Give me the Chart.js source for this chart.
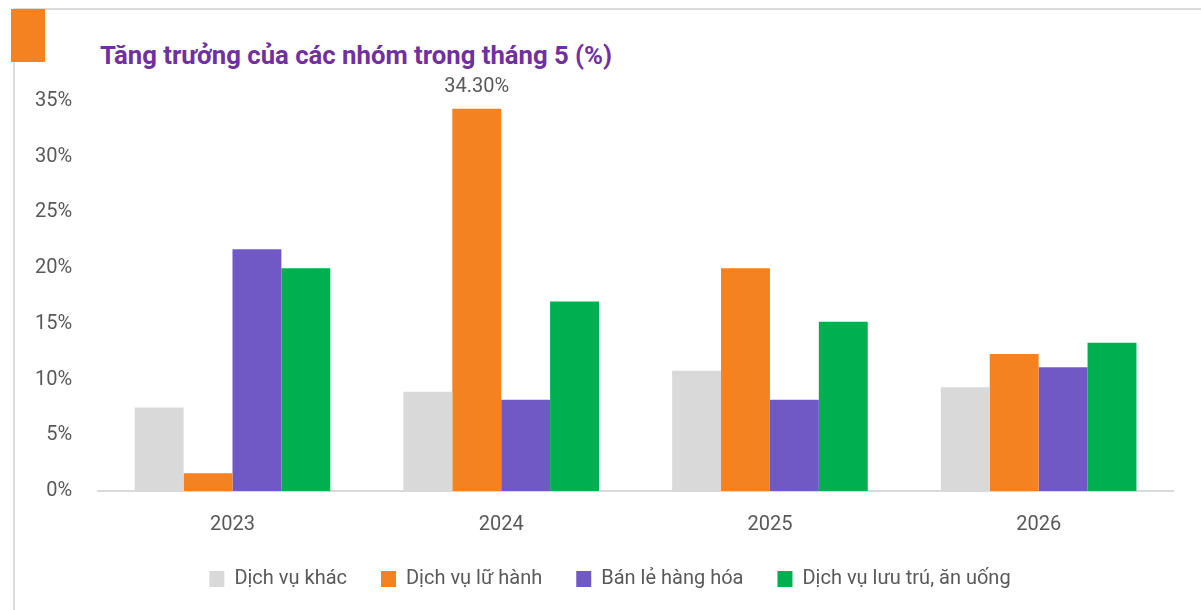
<!DOCTYPE html>
<html>
<head>
<meta charset="utf-8">
<script src="https://cdn.jsdelivr.net/npm/chart.js@4.4.1/dist/chart.umd.min.js"></script>
<style>
  body { margin: 0; background: #fff; }
  .wrap { position: relative; width: 1201px; height: 610px; overflow: hidden; }
  .frame { position: absolute; left: 13px; top: 8px; right: -2px; bottom: -2px; border-top: 2px solid #dcdcdc; border-left: 2px solid #dcdcdc; }
  .mark { position: absolute; left: 11px; top: 9px; width: 34px; height: 53px; background: #f58220; }
  .title { position: absolute; left: 100px; top: 40px; font-family: "Roboto", sans-serif; font-weight: bold; font-size: 25.7px; color: #7030a0; }
  canvas { position: absolute; left: 0; top: 0; }
</style>
</head>
<body>
<div class="wrap">
  <div class="frame"></div>
  <div class="mark"></div>
  <div class="title">Tăng trưởng của các nhóm trong tháng 5 (%)</div>
  <canvas id="myChart" width="1201" height="610"></canvas>
</div>
<script>
//data
const years = ["2023", "2024", "2025", "2026"];
const dvKhac = [7.5, 8.9, 10.8, 9.3];
const luHanh = [1.6, 34.3, 20.0, 12.3];
const banLe = [21.7, 8.2, 8.2, 11.1];
const luuTru = [20.0, 17.0, 15.2, 13.3];
const yTicks = [0, 5, 10, 15, 20, 25, 30, 35];

const font = "'Roboto', sans-serif";
const grey = "#595959";

//label only on the 34.30% bar
const topLabel = {
  id: "topLabel",
  afterDatasetsDraw(chart) {
    const bar = chart.getDatasetMeta(1).data[1];
    const c = chart.ctx;
    c.save();
    c.font = "20px " + font;
    c.fillStyle = grey;
    c.textAlign = "center";
    c.textBaseline = "bottom";
    c.fillText(luHanh[1].toFixed(2) + "%", bar.x, bar.y - 12);
    c.restore();
  },
};

//nudge legend a bit to the right, like the original
const legendShift = {
  id: "legendShift",
  afterLayout(chart) {
    chart.legend.left += 15;
    chart.legend.right += 15;
  },
};

const ctx = document.getElementById("myChart").getContext("2d");
const myChart = new Chart(ctx, {
  type: "bar",
  data: {
    labels: years,
    datasets: [
      { label: "Dịch vụ khác", data: dvKhac, backgroundColor: "#d9d9d9" },
      { label: "Dịch vụ lữ hành", data: luHanh, backgroundColor: "#f58220" },
      { label: "Bán lẻ hàng hóa", data: banLe, backgroundColor: "#7159c5" },
      { label: "Dịch vụ lưu trú, ăn uống", data: luuTru, backgroundColor: "#00b050" },
    ],
  },
  options: {
    responsive: false,
    animation: false,
    layout: { padding: { left: 17, right: 28, top: 101, bottom: 11 } },
    datasets: {
      bar: { categoryPercentage: 0.728, barPercentage: 1.0, borderWidth: 0 },
    },
    plugins: {
      legend: {
        position: "bottom",
        labels: {
          font: { family: font, size: 20 },
          color: grey,
          boxWidth: 15,
          boxHeight: 16,
          padding: 34,
        },
      },
      tooltip: { enabled: false },
    },
    scales: {
      x: {
        grid: { display: false },
        border: { color: "#d9d9d9", width: 2 },
        ticks: { font: { family: font, size: 20 }, color: grey, padding: 14 },
        afterFit: (s) => { s.height -= 16; },
      },
      y: {
        min: 0,
        max: 35,
        afterBuildTicks: (axis) => { axis.ticks = yTicks.map((v) => ({ value: v })); },
        grid: { display: false },
        border: { display: false },
        ticks: {
          font: { family: font, size: 20 },
          color: grey,
          padding: 18,
          callback: (v) => v + "%",
        },
      },
    },
  },
  plugins: [topLabel, legendShift],
});
</script>
</body>
</html>
